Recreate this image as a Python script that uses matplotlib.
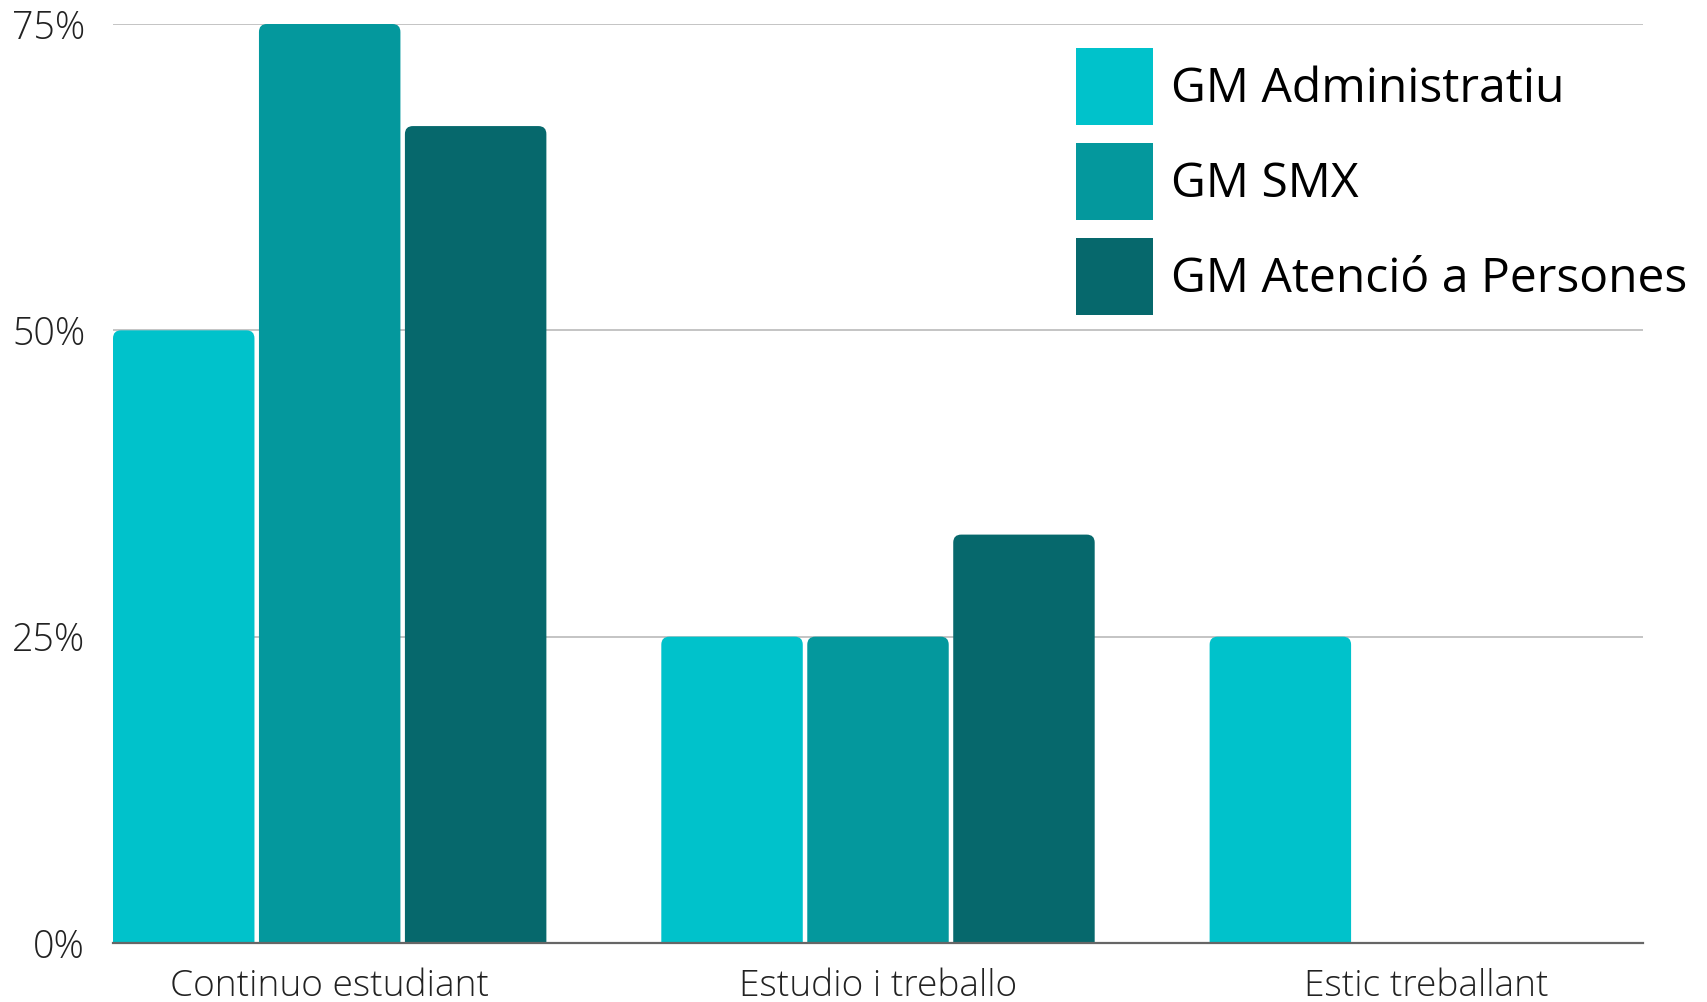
import matplotlib
matplotlib.use("Agg")
import matplotlib.pyplot as plt
from matplotlib.patches import FancyBboxPatch, Patch
from matplotlib.ticker import FixedLocator, FuncFormatter
import numpy as np

categories = ["Continuo estudiant", "Estudio i treballo", "Estic treballant"]
series_names = ["GM Administratiu", "GM SMX", "GM Atenció a Persones"]
admin = [50, 25, 25]
smx = [75, 25, 0]
atencio = [66.67, 33.33, 0]
yticks = [0, 25, 50, 75]
colors = ["#00C2CB", "#04989D", "#06686C"]

plt.rcParams['font.family'] = ['Open Sans', 'DejaVu Sans']

W, H = 1708, 1002
fig = plt.figure(figsize=(W / 100, H / 100), dpi=100)
ax = fig.add_axes([113 / W, 1 - 943 / H, (1643 - 113) / W, (943 - 24) / H])

x = np.arange(len(categories))
slot = 0.2662
bw = 0.258
series = [admin, smx, atencio]
px_x = (1643 - 113) / (2 + 2 * 0.3952)   # px per x unit
px_y = (943 - 24) / 75.0                  # px per y unit
r_px = 8
rs = r_px / px_x
aspect = (r_px / px_y) / rs

handles = []
for i, (vals, col, name) in enumerate(zip(series, colors, series_names)):
    bars = ax.bar(x + (i - 1) * slot, vals, width=bw, color=col, zorder=2)
    for b in bars:
        b.set_visible(False)
        h = b.get_height()
        if h <= 0:
            continue
        bot = -2.0
        p = FancyBboxPatch((b.get_x(), bot), b.get_width(), h - bot,
                           boxstyle=f"round,pad=0,rounding_size={rs}",
                           mutation_aspect=aspect, facecolor=col, edgecolor='none',
                           zorder=2, clip_on=True)
        ax.add_patch(p)
    handles.append(Patch(facecolor=col, edgecolor='none', label=name))

ax.set_xlim(-0.3952, 2.3952)
ax.set_ylim(0, 75)

ax.yaxis.set_major_locator(FixedLocator(yticks))
ax.yaxis.set_major_formatter(FuncFormatter(lambda v, p: f"{int(v)}%"))
ax.set_xticks(x)
ax.set_xticklabels(categories)

for s in ['top', 'right', 'left']:
    ax.spines[s].set_visible(False)
ax.spines['bottom'].set_color('#666666')
ax.spines['bottom'].set_linewidth(1.6)
ax.spines['bottom'].set_zorder(3)

for yv in yticks[1:]:
    ax.axhline(yv, color='#c4c4c4', linewidth=1.4, zorder=1)

ax.tick_params(axis='y', length=0, pad=20, labelsize=27, labelcolor='#222222')
ax.tick_params(axis='x', length=0, pad=18, labelsize=26.7, labelcolor='#222222')
for lab in ax.get_xticklabels() + ax.get_yticklabels():
    lab.set_fontweight('light')

fs = 34.6
fpx = fs * 100 / 72
hpx = 77
hh = (hpx / fpx - 0.245) / 0.65
leg = ax.legend(handles=handles, loc='upper left', bbox_to_anchor=(1076 / W, 1 - 48 / H),
                bbox_transform=fig.transFigure, frameon=False,
                fontsize=fs, handlelength=hpx / fpx, handleheight=hh,
                labelspacing=18 / fpx, handletextpad=18 / fpx, borderpad=0, borderaxespad=0)
for t in leg.get_texts():
    t.set_color('#000000')

fig.savefig("out.png", dpi=100)
